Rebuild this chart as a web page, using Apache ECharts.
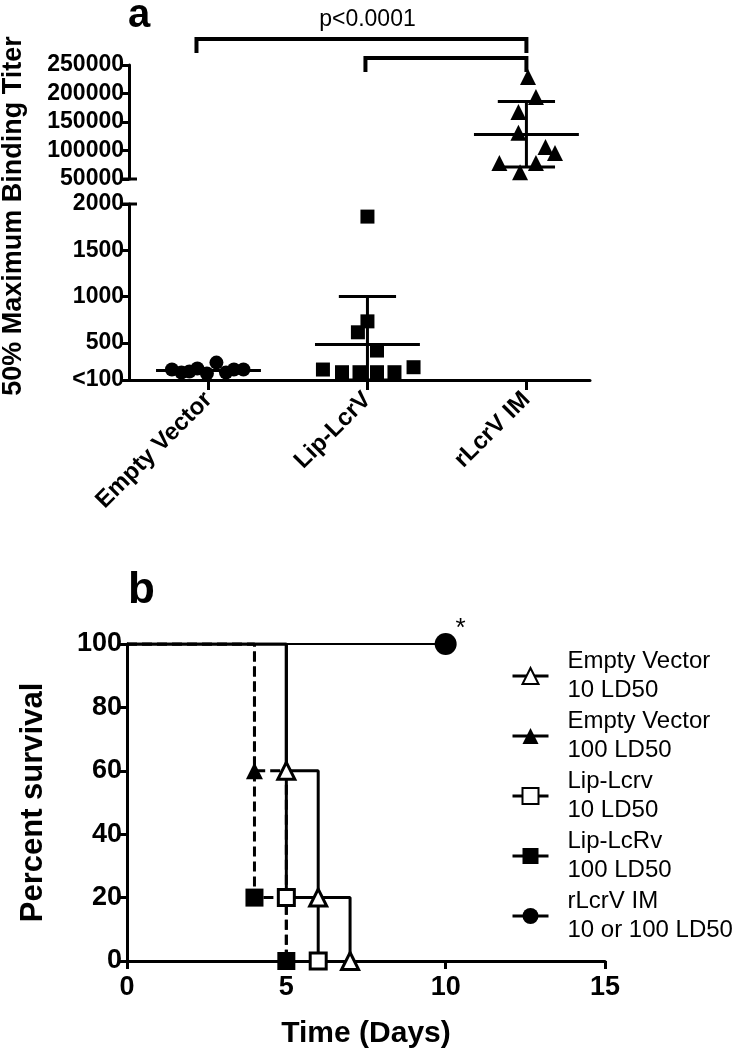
<!DOCTYPE html>
<html>
<head>
<meta charset="utf-8">
<script src="https://cdn.jsdelivr.net/npm/echarts@6/dist/echarts.min.js"></script>
<style>
  html, body { margin: 0; padding: 0; background: #fff; }
  #chart { width: 746px; height: 1050px; }
</style>
</head>
<body>
<div id="chart"></div>
<script>
// ---- panel a: binding titers ----
const groups = ['Empty Vector', 'Lip-LcrV', 'rLcrV IM'];

// titer of each animal, plus its horizontal scatter offset from the group centre
const emptyVectorTiter = [213, 181, 192, 224, 170, 288, 181, 213, 213];
const emptyVectorJitter = [-0.23, -0.17, -0.12, -0.07, -0.01, 0.05, 0.11, 0.16, 0.22];
const lipLcrvTiter = [1864, 733, 615, 418, 213, 184, 184, 184, 184, 238];
const lipLcrvJitter = [0, 0, -0.06, 0.06, -0.28, -0.16, -0.05, 0.06, 0.17, 0.29];
const rLcrvTiter = [229000, 194000, 167500, 131000, 106000, 95600, 78000, 78000, 62000];
const rLcrvJitter = [0.01, 0.06, -0.05, -0.05, 0.12, 0.18, -0.17, 0.06, -0.04];

// mean and SD bar ends per group
const groupMean = [202, 482, 128000];
const groupLow = [202, 100, 71000];
const groupHigh = [202, 1002, 186000];

const upperTicks = [50000, 100000, 150000, 200000, 250000];
const lowerTicks = [100, 500, 1000, 1500, 2000];
const comparisons = [[0, 2], [1, 2]];
const pLabel = 'p<0.0001';

// ---- panel b: survival ----
const ev10Days = [0, 5, 6, 7];
const ev10Surv = [100, 60, 20, 0];
const ev100Days = [0, 4, 5];
const ev100Surv = [100, 60, 0];
const lip10Days = [0, 5, 6];
const lip10Surv = [100, 20, 0];
const lip100Days = [0, 4, 5];
const lip100Surv = [100, 20, 0];
const rlcrvDays = [0, 10];
const rlcrvSurv = [100, 100];
const survivalNames = [
  'Empty Vector\n10 LD50',
  'Empty Vector\n100 LD50',
  'Lip-Lcrv\n10 LD50',
  'Lip-LcRv\n100 LD50',
  'rLcrV IM\n10 or 100 LD50'
];

const FONT = "'Liberation Sans', Arial, sans-serif";

function points(center, offsets, values) {
  return values.map((v, i) => [center + offsets[i], v]);
}

// Kaplan-Meier points; the starting point has no marker
function kmPoints(days, surv) {
  return days.map((d, i) => i === 0 ? { value: [d, surv[i]], symbol: 'none' } : [d, surv[i]]);
}

function statsData(idx) {
  return idx.map(i => [i, groupMean[i], groupLow[i], groupHigh[i]]);
}

function renderStats(params, api) {
  const x = api.value(0), mean = api.value(1), lo = api.value(2), hi = api.value(3);
  const style = { stroke: '#000', lineWidth: 3 };
  const seg = (a, b) => ({ type: 'line', shape: { x1: a[0], y1: a[1], x2: b[0], y2: b[1] }, style });
  const kids = [seg(api.coord([x - 0.33, mean]), api.coord([x + 0.33, mean]))];
  if (hi > lo) {
    kids.push(seg(api.coord([x, lo]), api.coord([x, hi])));
    kids.push(seg(api.coord([x - 0.18, hi]), api.coord([x + 0.18, hi])));
    kids.push(seg(api.coord([x - 0.18, lo]), api.coord([x + 0.18, lo])));
  }
  return { type: 'group', children: kids };
}

const axisLine = { show: true, onZero: false, lineStyle: { color: '#000', width: 3 } };
const tickStyle = { color: '#000', width: 3 };
const black = { color: '#000', opacity: 1 };

const option = {
  animation: false,
  backgroundColor: '#fff',
  grid: [
    { left: 129, top: 65, width: 461, height: 114 },
    { left: 129, top: 204, width: 461, height: 176 },
    { left: 127, top: 644, width: 478, height: 318 }
  ],
  xAxis: [
    { gridIndex: 0, type: 'value', min: -0.5, max: 2.4, show: false },
    {
      gridIndex: 1, type: 'value', min: -0.5, max: 2.4,
      axisLine: axisLine,
      splitLine: { show: false },
      axisTick: { show: true, customValues: [0, 1, 2], length: 10, lineStyle: tickStyle },
      axisLabel: {
        customValues: [0, 1, 2], rotate: 45, margin: 16,
        formatter: v => groups[Math.round(v)],
        color: '#000', fontFamily: FONT, fontWeight: 'bold', fontSize: 24
      }
    },
    {
      gridIndex: 2, type: 'value', min: 0, max: 15, interval: 5,
      axisLine: axisLine,
      splitLine: { show: false },
      axisTick: { show: true, length: 8, lineStyle: tickStyle },
      axisLabel: { color: '#000', fontFamily: FONT, fontWeight: 'bold', fontSize: 27, margin: 13 },
      name: 'Time (Days)', nameLocation: 'middle', nameGap: 58,
      nameTextStyle: { color: '#000', fontFamily: FONT, fontWeight: 'bold', fontSize: 30 }
    }
  ],
  yAxis: [
    {
      gridIndex: 0, type: 'value', min: 50000, max: 250000, interval: 50000,
      axisLine: axisLine,
      splitLine: { show: false },
      axisTick: { show: true, length: 8, lineStyle: tickStyle },
      axisLabel: { formatter: v => String(v), color: '#000', fontFamily: FONT, fontWeight: 'bold', fontSize: 23, margin: 5 }
    },
    {
      gridIndex: 1, type: 'value', min: 100, max: 2000,
      axisLine: axisLine,
      splitLine: { show: false },
      axisTick: { show: true, customValues: lowerTicks, length: 8, lineStyle: tickStyle },
      axisLabel: {
        customValues: lowerTicks,
        formatter: v => v === 100 ? '<100' : String(v),
        color: '#000', fontFamily: FONT, fontWeight: 'bold', fontSize: 23, margin: 5
      }
    },
    {
      gridIndex: 2, type: 'value', min: 0, max: 100, interval: 20,
      axisLine: axisLine,
      splitLine: { show: false },
      axisTick: { show: true, length: 8, lineStyle: tickStyle },
      axisLabel: { color: '#000', fontFamily: FONT, fontWeight: 'bold', fontSize: 27, margin: 5 },
      name: 'Percent survival', nameLocation: 'middle', nameGap: 78, nameRotate: 90,
      nameTextStyle: { color: '#000', fontFamily: FONT, fontWeight: 'bold', fontSize: 31 }
    }
  ],
  legend: {
    orient: 'vertical', left: 506, top: 642,
    itemWidth: 36, itemHeight: 20, itemGap: 2,
    data: survivalNames,
    lineStyle: { type: 'solid', width: 3, color: '#000' },
    textStyle: { color: '#000', fontFamily: FONT, fontSize: 24, lineHeight: 29, padding: [0, 0, 0, 14] }
  },
  graphic: [
    { type: 'text', x: 128, y: 16, style: { text: 'a', font: 'bold 40px ' + FONT, fill: '#000', verticalAlign: 'middle' } },
    { type: 'text', x: 128, y: 591, style: { text: 'b', font: 'bold 44px ' + FONT, fill: '#000', verticalAlign: 'middle' } },
    {
      type: 'text', x: 14, y: 216, rotation: Math.PI / 2,
      style: { text: '50% Maximum Binding Titer', font: 'bold 27px ' + FONT, fill: '#000', align: 'center', verticalAlign: 'middle' }
    }
  ],
  series: [
    {
      type: 'scatter', xAxisIndex: 1, yAxisIndex: 1, symbol: 'circle', symbolSize: 14,
      itemStyle: black, data: points(0, emptyVectorJitter, emptyVectorTiter)
    },
    {
      type: 'scatter', xAxisIndex: 1, yAxisIndex: 1, symbol: 'rect', symbolSize: 14,
      itemStyle: black, data: points(1, lipLcrvJitter, lipLcrvTiter)
    },
    {
      type: 'scatter', xAxisIndex: 0, yAxisIndex: 0, symbol: 'triangle', symbolSize: 16,
      itemStyle: black, data: points(2, rLcrvJitter, rLcrvTiter)
    },
    { type: 'custom', xAxisIndex: 1, yAxisIndex: 1, renderItem: renderStats, data: statsData([0, 1]) },
    { type: 'custom', xAxisIndex: 0, yAxisIndex: 0, renderItem: renderStats, data: statsData([2]) },

    {
      name: survivalNames[0], type: 'line', xAxisIndex: 2, yAxisIndex: 2, step: 'end',
      symbol: 'triangle', symbolSize: 17,
      lineStyle: { color: '#000', width: 3 },
      itemStyle: { color: '#fff', borderColor: '#000', borderWidth: 3 },
      data: kmPoints(ev10Days, ev10Surv)
    },
    {
      name: survivalNames[1], type: 'line', xAxisIndex: 2, yAxisIndex: 2, step: 'end',
      symbol: 'triangle', symbolSize: 17,
      lineStyle: { color: '#000', width: 3, type: [10, 5] },
      itemStyle: { color: '#000' },
      data: kmPoints(ev100Days, ev100Surv)
    },
    {
      name: survivalNames[2], type: 'line', xAxisIndex: 2, yAxisIndex: 2, step: 'end',
      symbol: 'rect', symbolSize: 16,
      lineStyle: { color: '#000', width: 3 },
      itemStyle: { color: '#fff', borderColor: '#000', borderWidth: 3 },
      data: kmPoints(lip10Days, lip10Surv)
    },
    {
      name: survivalNames[3], type: 'line', xAxisIndex: 2, yAxisIndex: 2, step: 'end',
      symbol: 'rect', symbolSize: 18,
      lineStyle: { color: '#000', width: 3, type: [10, 5] },
      itemStyle: { color: '#000' },
      data: kmPoints(lip100Days, lip100Surv)
    },
    {
      name: survivalNames[4], type: 'line', xAxisIndex: 2, yAxisIndex: 2, step: 'end',
      symbol: 'circle', symbolSize: 22,
      lineStyle: { color: '#000', width: 2 },
      itemStyle: { color: '#000' },
      data: kmPoints(rlcrvDays, rlcrvSurv)
    }
  ]
};

const chart = echarts.init(document.getElementById('chart'));
chart.setOption(option);

// annotations positioned from the axes: comparison brackets, p value, axis-break ends, asterisk
const gx = v => chart.convertToPixel({ xAxisIndex: 0 }, v);
const extra = [];
const barY = [39, 58];
comparisons.forEach((pair, k) => {
  const x1 = gx(pair[0]) - (k === 0 ? 12 : 2), x2 = gx(pair[1]);
  const y = barY[k], foot = y + 14;
  extra.push({
    type: 'polyline',
    shape: { points: [[x1, foot], [x1, y], [x2, y], [x2, foot]] },
    style: { stroke: '#000', lineWidth: 4, fill: null }
  });
});
extra.push({
  type: 'text', x: (gx(comparisons[0][0]) + gx(comparisons[0][1])) / 2, y: 20,
  style: { text: pLabel, font: '23px ' + FONT, fill: '#000', align: 'center', verticalAlign: 'middle' }
});
const axisX = gx(-0.5);
const breakYs = [
  chart.convertToPixel({ yAxisIndex: 0 }, upperTicks[0]),
  chart.convertToPixel({ yAxisIndex: 1 }, lowerTicks[lowerTicks.length - 1])
];
breakYs.forEach(y => extra.push({
  type: 'line', shape: { x1: axisX - 9, y1: y, x2: axisX + 8, y2: y },
  style: { stroke: '#000', lineWidth: 3 }
}));
const star = chart.convertToPixel({ xAxisIndex: 2, yAxisIndex: 2 }, [rlcrvDays[1], rlcrvSurv[1]]);
extra.push({
  type: 'text', x: star[0] + 15, y: star[1] - 15,
  style: { text: '*', font: '26px ' + FONT, fill: '#000', align: 'center', verticalAlign: 'middle' }
});
chart.setOption({ graphic: option.graphic.concat(extra) });
</script>
</body>
</html>
